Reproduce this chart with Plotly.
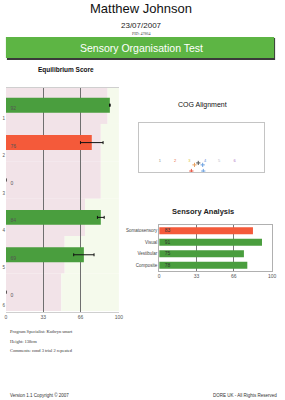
import plotly.graph_objects as go

W, H = 285, 400

# ---------------- data ----------------
conditions = [1, 2, 3, 4, 5, 6]
eq_scores = [92, 76, 0, 84, 69, 0]
eq_err = [0.3, 10, 0, 3, 9, 0]
eq_colors = ["#4a9e3e", "#f45a3a", "#4a9e3e", "#4a9e3e", "#4a9e3e", "#4a9e3e"]
eq_norms = [90, 84, 84, 70, 52, 49]
x_ticks = [0, 33, 66, 100]

cog_labels = ["1", "2", "3", "4", "5", "6"]
cog_x = [-6.6, -4.2, -1.9, 0.6, 2.8, 5.3]
cog_y = [-5.5, -5.5, -5.5, -5.5, -5.5, -5.5]
cog_colors = ["#8a8a8a", "#e8603c", "#d6c23a", "#5b8fd6", "#b8b8c8", "#b070c0"]
cog_pts_x = [-0.5, -1.1, 0.2, -1.6, 0.3]
cog_pts_y = [-6.3, -7.1, -7.1, -9.6, -9.6]
cog_pts_col = ["#555555", "#e8a060", "#6aa0e0", "#e8503c", "#6aa0e0"]

sens_cats = ["Somatosensory", "Visual", "Vestibular", "Composite"]
sens_vals = [83, 91, 75, 78]
sens_colors = ["#f45a3a", "#4a9e3e", "#4a9e3e", "#4a9e3e"]

FONT = "Liberation Sans, Arial, sans-serif"
SERIF = "Liberation Serif, Times New Roman, serif"


def px(x):
    return x / W


def py(y):
    return 1 - y / H


fig = go.Figure()

# ---------------- Equilibrium score ----------------
bar_pos = [c - 0.35 for c in conditions]
fig.add_trace(go.Bar(
    x=eq_scores, y=bar_pos, orientation="h", width=0.4,
    marker=dict(color=eq_colors, line=dict(width=0)),
    error_x=dict(type="data", array=eq_err, arrayminus=eq_err,
                 color="#111111", thickness=1, width=1.5),
    xaxis="x", yaxis="y", showlegend=False, hoverinfo="skip"))
fig.add_trace(go.Scatter(
    x=[4] * len(eq_scores), y=[p + 0.1 for p in bar_pos],
    text=[str(v) for v in eq_scores], mode="text",
    textposition="middle right",
    textfont=dict(size=5, color="#555555", family=FONT),
    xaxis="x", yaxis="y", showlegend=False, hoverinfo="skip"))

shapes = []
for p, n in zip(bar_pos, eq_norms):
    shapes.append(dict(type="rect", xref="x", yref="y", x0=0, x1=n,
                       y0=p - 0.5, y1=p + 0.5, fillcolor="#f2e3e8",
                       line=dict(width=0), layer="below"))
    shapes.append(dict(type="rect", xref="x", yref="y", x0=n, x1=100,
                       y0=p - 0.5, y1=p + 0.5, fillcolor="#f5faec",
                       line=dict(width=0), layer="below"))

# ---------------- COG alignment ----------------
fig.add_trace(go.Scatter(
    x=cog_x, y=cog_y, text=cog_labels, mode="text",
    textfont=dict(size=4, color=cog_colors, family=FONT),
    xaxis="x2", yaxis="y2", showlegend=False, hoverinfo="skip"))
fig.add_trace(go.Scatter(
    x=cog_pts_x, y=cog_pts_y, mode="markers",
    marker=dict(symbol="cross-thin", size=3, color=cog_pts_col,
                line=dict(width=1, color=cog_pts_col)),
    xaxis="x2", yaxis="y2", showlegend=False, hoverinfo="skip"))

# ---------------- Sensory analysis ----------------
fig.add_trace(go.Bar(
    x=sens_vals, y=sens_cats, orientation="h", width=0.62,
    marker=dict(color=sens_colors, line=dict(width=0)),
    xaxis="x3", yaxis="y3", showlegend=False, hoverinfo="skip"))
fig.add_trace(go.Scatter(
    x=[5] * len(sens_vals), y=sens_cats,
    text=[str(v) for v in sens_vals], mode="text",
    textposition="middle right",
    textfont=dict(size=5, color="#333333", family=FONT),
    xaxis="x3", yaxis="y3", showlegend=False, hoverinfo="skip"))

# ---------------- banner ----------------
shapes.append(dict(type="rect", xref="paper", yref="paper",
                   x0=px(6), x1=px(279), y0=py(60), y1=py(38),
                   fillcolor="#3a3a3a", line=dict(width=0), layer="below"))
shapes.append(dict(type="rect", xref="paper", yref="paper",
                   x0=px(5), x1=px(278), y0=py(58), y1=py(37),
                   fillcolor="#5db544", line=dict(width=0), layer="below"))

annotations = [
    dict(text="Matthew Johnson", x=0.5, y=py(9), font=dict(size=13, color="#111", family=FONT)),
    dict(text="23/07/2007", x=0.5, y=py(25), font=dict(size=8, color="#222", family=FONT)),
    dict(text="PID: 47864", x=0.5, y=py(33), font=dict(size=4, color="#444", family=SERIF)),
    dict(text="Sensory Organisation Test", x=px(143), y=py(48),
         font=dict(size=10.5, color="#ffffff", family=FONT)),
    dict(text="<b>Equilibrium Score</b>", x=px(66), y=py(70),
         font=dict(size=6.5, color="#111", family=FONT)),
    dict(text="COG Alignment", x=px(205), y=py(105),
         font=dict(size=7, color="#111111", family=FONT)),
    dict(text="<b>Sensory Analysis</b>", x=px(206), y=py(211),
         font=dict(size=7.5, color="#222", family=FONT)),
    dict(text="Program Specialist: Kathryn smart", x=px(7), y=py(331), xanchor="left",
         font=dict(size=4.5, color="#333", family=SERIF)),
    dict(text="Height: 138cm", x=px(7), y=py(341), xanchor="left",
         font=dict(size=4.5, color="#333", family=SERIF)),
    dict(text="Comments: cond 3 trial 2 repeated", x=px(7), y=py(350), xanchor="left",
         font=dict(size=4.5, color="#333", family=SERIF)),
    dict(text="Version 1.1 Copyright © 2007", x=px(7), y=py(395), xanchor="left",
         font=dict(size=4.5, color="#333", family=FONT)),
    dict(text="DORE UK - All Rights Reserved", x=px(283), y=py(395), xanchor="right",
         font=dict(size=4.5, color="#333", family=FONT)),
]
for a in annotations:
    a.setdefault("xanchor", "center")
    a.update(xref="paper", yref="paper", yanchor="middle", showarrow=False)

fig.update_layout(
    width=W, height=H, margin=dict(l=0, r=0, t=0, b=0),
    paper_bgcolor="#ffffff", plot_bgcolor="rgba(0,0,0,0)",
    barmode="overlay", showlegend=False,
    shapes=shapes, annotations=annotations,
    xaxis=dict(domain=[px(5), px(120)], range=[0, 100], tickvals=x_ticks,
               showgrid=True, gridcolor="#6f6f6f", gridwidth=1, zeroline=False,
               showline=True, linecolor="#cfcfcf", linewidth=1, mirror=True,
               ticks="", tickfont=dict(size=5, color="#555", family=FONT),
               anchor="y", fixedrange=True),
    yaxis=dict(domain=[py(312), py(88)], range=[6.18, 0.19], tickvals=conditions,
               showgrid=False, zeroline=False, showline=False, ticks="",
               tickfont=dict(size=4.5, color="#555", family=FONT),
               anchor="x", fixedrange=True),
    xaxis2=dict(domain=[px(140), px(268)], range=[-10, 10], showgrid=False,
                zeroline=False, showticklabels=False, ticks="",
                showline=True, linecolor="#c4c4c4", linewidth=1, mirror=True,
                anchor="y2", fixedrange=True),
    yaxis2=dict(domain=[py(172), py(123)], range=[-10, 10], showgrid=False,
                zeroline=False, showticklabels=False, ticks="",
                showline=True, linecolor="#c4c4c4", linewidth=1, mirror=True,
                anchor="x2", fixedrange=True),
    xaxis3=dict(domain=[px(161), px(276)], range=[0, 100], tickvals=x_ticks,
                showgrid=True, gridcolor="#7a7a7a", gridwidth=1, zeroline=False,
                showline=True, linecolor="#b0b0b0", linewidth=1, mirror=True,
                ticks="", tickfont=dict(size=5, color="#555", family=FONT),
                anchor="y3", fixedrange=True),
    yaxis3=dict(domain=[py(271), py(225)], autorange="reversed",
                showgrid=False, zeroline=False, showline=True, linecolor="#b0b0b0",
                mirror=True, ticks="", tickfont=dict(size=4.5, color="#444", family=FONT),
                anchor="x3", fixedrange=True),
)

fig.write_html("out.html")
